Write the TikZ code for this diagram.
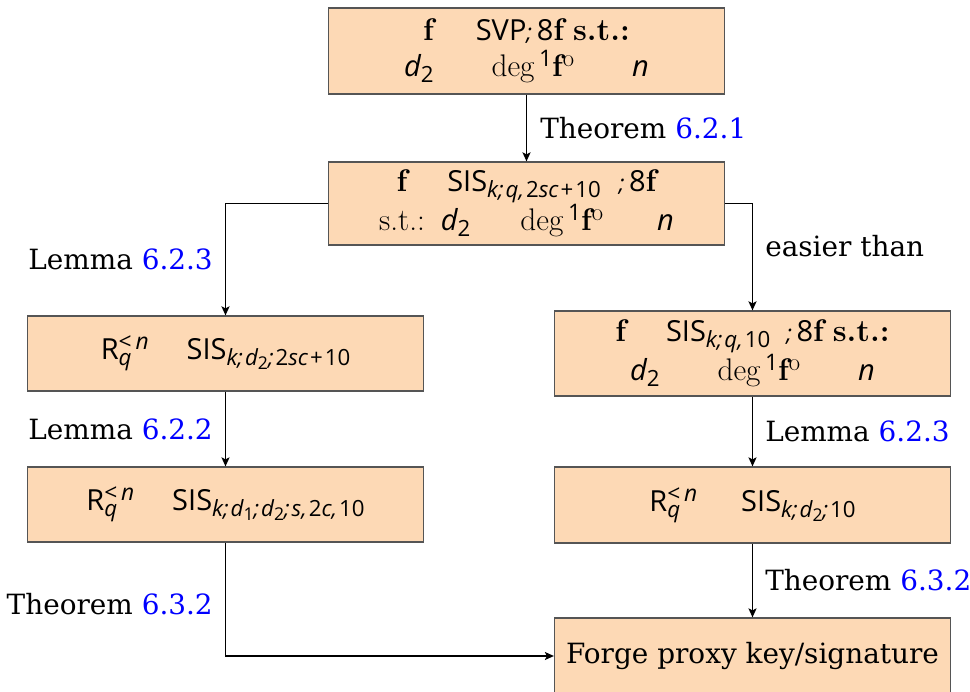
\documentclass[tikz,border=0pt]{standalone}
\usepackage{fontspec}
\setmainfont{DejaVu Serif}
\newfontfamily\symfont{Open Sans}[Scale=1.04]
\newfontfamily\cmfont{Latin Modern Roman}[Scale=1.12]
\usetikzlibrary{arrows.meta}
\definecolor{boxBgColor}{HTML}{FDD9B5}
\definecolor{boxLineColor}{HTML}{555555}
\definecolor{linkColor}{HTML}{000000}
\definecolor{refColor}{HTML}{0000FF}
% small pieces of the box texts
\newcommand\bff{{\cmfont\bfseries f}}
\newcommand\bst{{\cmfont\bfseries s.t.:}}
\newcommand\mvar[1]{{\symfont\itshape #1}}
\newcommand\semi{{\fontsize{22}{22}\selectfont\symfont\itshape ;}}
\newcommand\sep[1]{\mvar{#1}\hspace{2bp}}
\newcommand\plus{\hspace{2bp}+\hspace{2bp}}
\newcommand\subs[1]{\raisebox{-6bp}{\fontsize{21.5}{22}\selectfont\symfont #1}}
\newcommand\subsub[1]{\raisebox{-4bp}{\fontsize{17}{17}\selectfont\symfont #1}}
\newcommand\sups[1]{\raisebox{10bp}{\fontsize{22}{22}\selectfont\symfont #1}}
\newcommand\degf{{\cmfont deg}\,\sups{1}\bff\sups{\cmfont o}}
\newcommand\reft[1]{\textcolor{refColor}{#1}}
\def\textA{\bff\hspace{42bp}{\symfont SVP}\semi\,{\symfont 8}\bff\ \bst\\
\mvar{d}\subs{2}\hspace{58bp}\degf\hspace{58bp}\mvar{n}}
\def\textB{\bff\hspace{40bp}{\symfont SIS}\subs{\sep{k;}\sep{q,}2\mvar{sc}\plus10}\hspace{18bp}\semi\,{\symfont 8}\bff\\
{\cmfont s.t.:}\hspace{16bp}\mvar{d}\subs{2}\hspace{50bp}\degf\hspace{54bp}\mvar{n}}
\def\textC{{\symfont R}\rlap{\subs{\mvar{q}}}\sups{<\,\mvar{n}}\hspace{38bp}{\symfont SIS}\subs{\sep{k;}\mvar{d}\subsub{2}\sep{;}2\mvar{sc}\plus10}}
\def\textD{\bff\hspace{40bp}{\symfont SIS}\subs{\sep{k;}\sep{q,}10}\hspace{16bp}\semi\,{\symfont 8}\bff\ \bst\\
\mvar{d}\subs{2}\hspace{58bp}\degf\hspace{58bp}\mvar{n}}
\def\textE{{\symfont R}\rlap{\subs{\mvar{q}}}\sups{<\,\mvar{n}}\hspace{38bp}{\symfont SIS}\subs{\sep{k;}\mvar{d}\subsub{1}\sep{;}\mvar{d}\subsub{2}\sep{;}\sep{s,}2\sep{c,}10}}
\def\textF{{\symfont R}\rlap{\subs{\mvar{q}}}\sups{<\,\mvar{n}}\hspace{44bp}{\symfont SIS}\subs{\sep{k;}\mvar{d}\subsub{2}\sep{;}10}}
\def\textG{Forge proxy key/signature}

\begin{document}
\begin{tikzpicture}[x=1bp,y=-1bp,
  box/.style={draw=boxLineColor, fill=boxBgColor, line width=1.2bp,
    minimum width=396bp, inner sep=0pt, align=center,
    font=\fontsize{28}{36}\selectfont},
  link/.style={draw=linkColor, line width=1.5bp,
    -{Stealth[length=9bp,width=8bp,inset=2bp]}},
  lbl/.style={inner sep=0pt, font=\fontsize{28}{32}\selectfont}]
\useasboundingbox (0, 0) rectangle (970, 692);

% boxes
\begin{scope}
\node[box, minimum height=86bp] (boxA) at (526.5, 51) {\textA};
\node[box, minimum height=83bp] (boxB) at (526.5, 203.5) {\textB};
\node[box, minimum height=75bp] (boxC) at (225.5, 353.5) {\textC};
\node[box, minimum height=85bp] (boxD) at (752.5, 353.5) {\textD};
\node[box, minimum height=75bp] (boxE) at (225.5, 504.5) {\textE};
\node[box, minimum height=76bp] (boxF) at (752.5, 505) {\textF};
\node[box, minimum height=76bp] (boxG) at (752.5, 656) {\textG};
\end{scope}

% links
\begin{scope}
\draw[link] (boxA.south) -- (boxB.north)
  node[lbl, midway, right=13bp] (lblA) {Theorem \reft{6.2.1}};
\draw[link] (boxB.west) -| (boxC.north)
  node[lbl, pos=0.75, left=12bp] (lblB) {Lemma \reft{6.2.3}};
\draw[link] (boxB.east) -| (boxD.north)
  node[lbl, pos=0.70, right=12bp] (lblC) {easier than};
\draw[link] (boxC.south) -- (boxE.north)
  node[lbl, midway, left=12bp] (lblD) {Lemma \reft{6.2.2}};
\draw[link] (boxD.south) -- (boxF.north)
  node[lbl, midway, right=12bp] (lblE) {Lemma \reft{6.2.3}};
\draw[link] (boxE.south) |- (boxG.west)
  node[lbl, pos=0.27, left=12bp] (lblF) {Theorem \reft{6.3.2}};
\draw[link] (boxF.south) -- (boxG.north)
  node[lbl, midway, right=12bp] (lblG) {Theorem \reft{6.3.2}};
\end{scope}
\end{tikzpicture}
\end{document}
